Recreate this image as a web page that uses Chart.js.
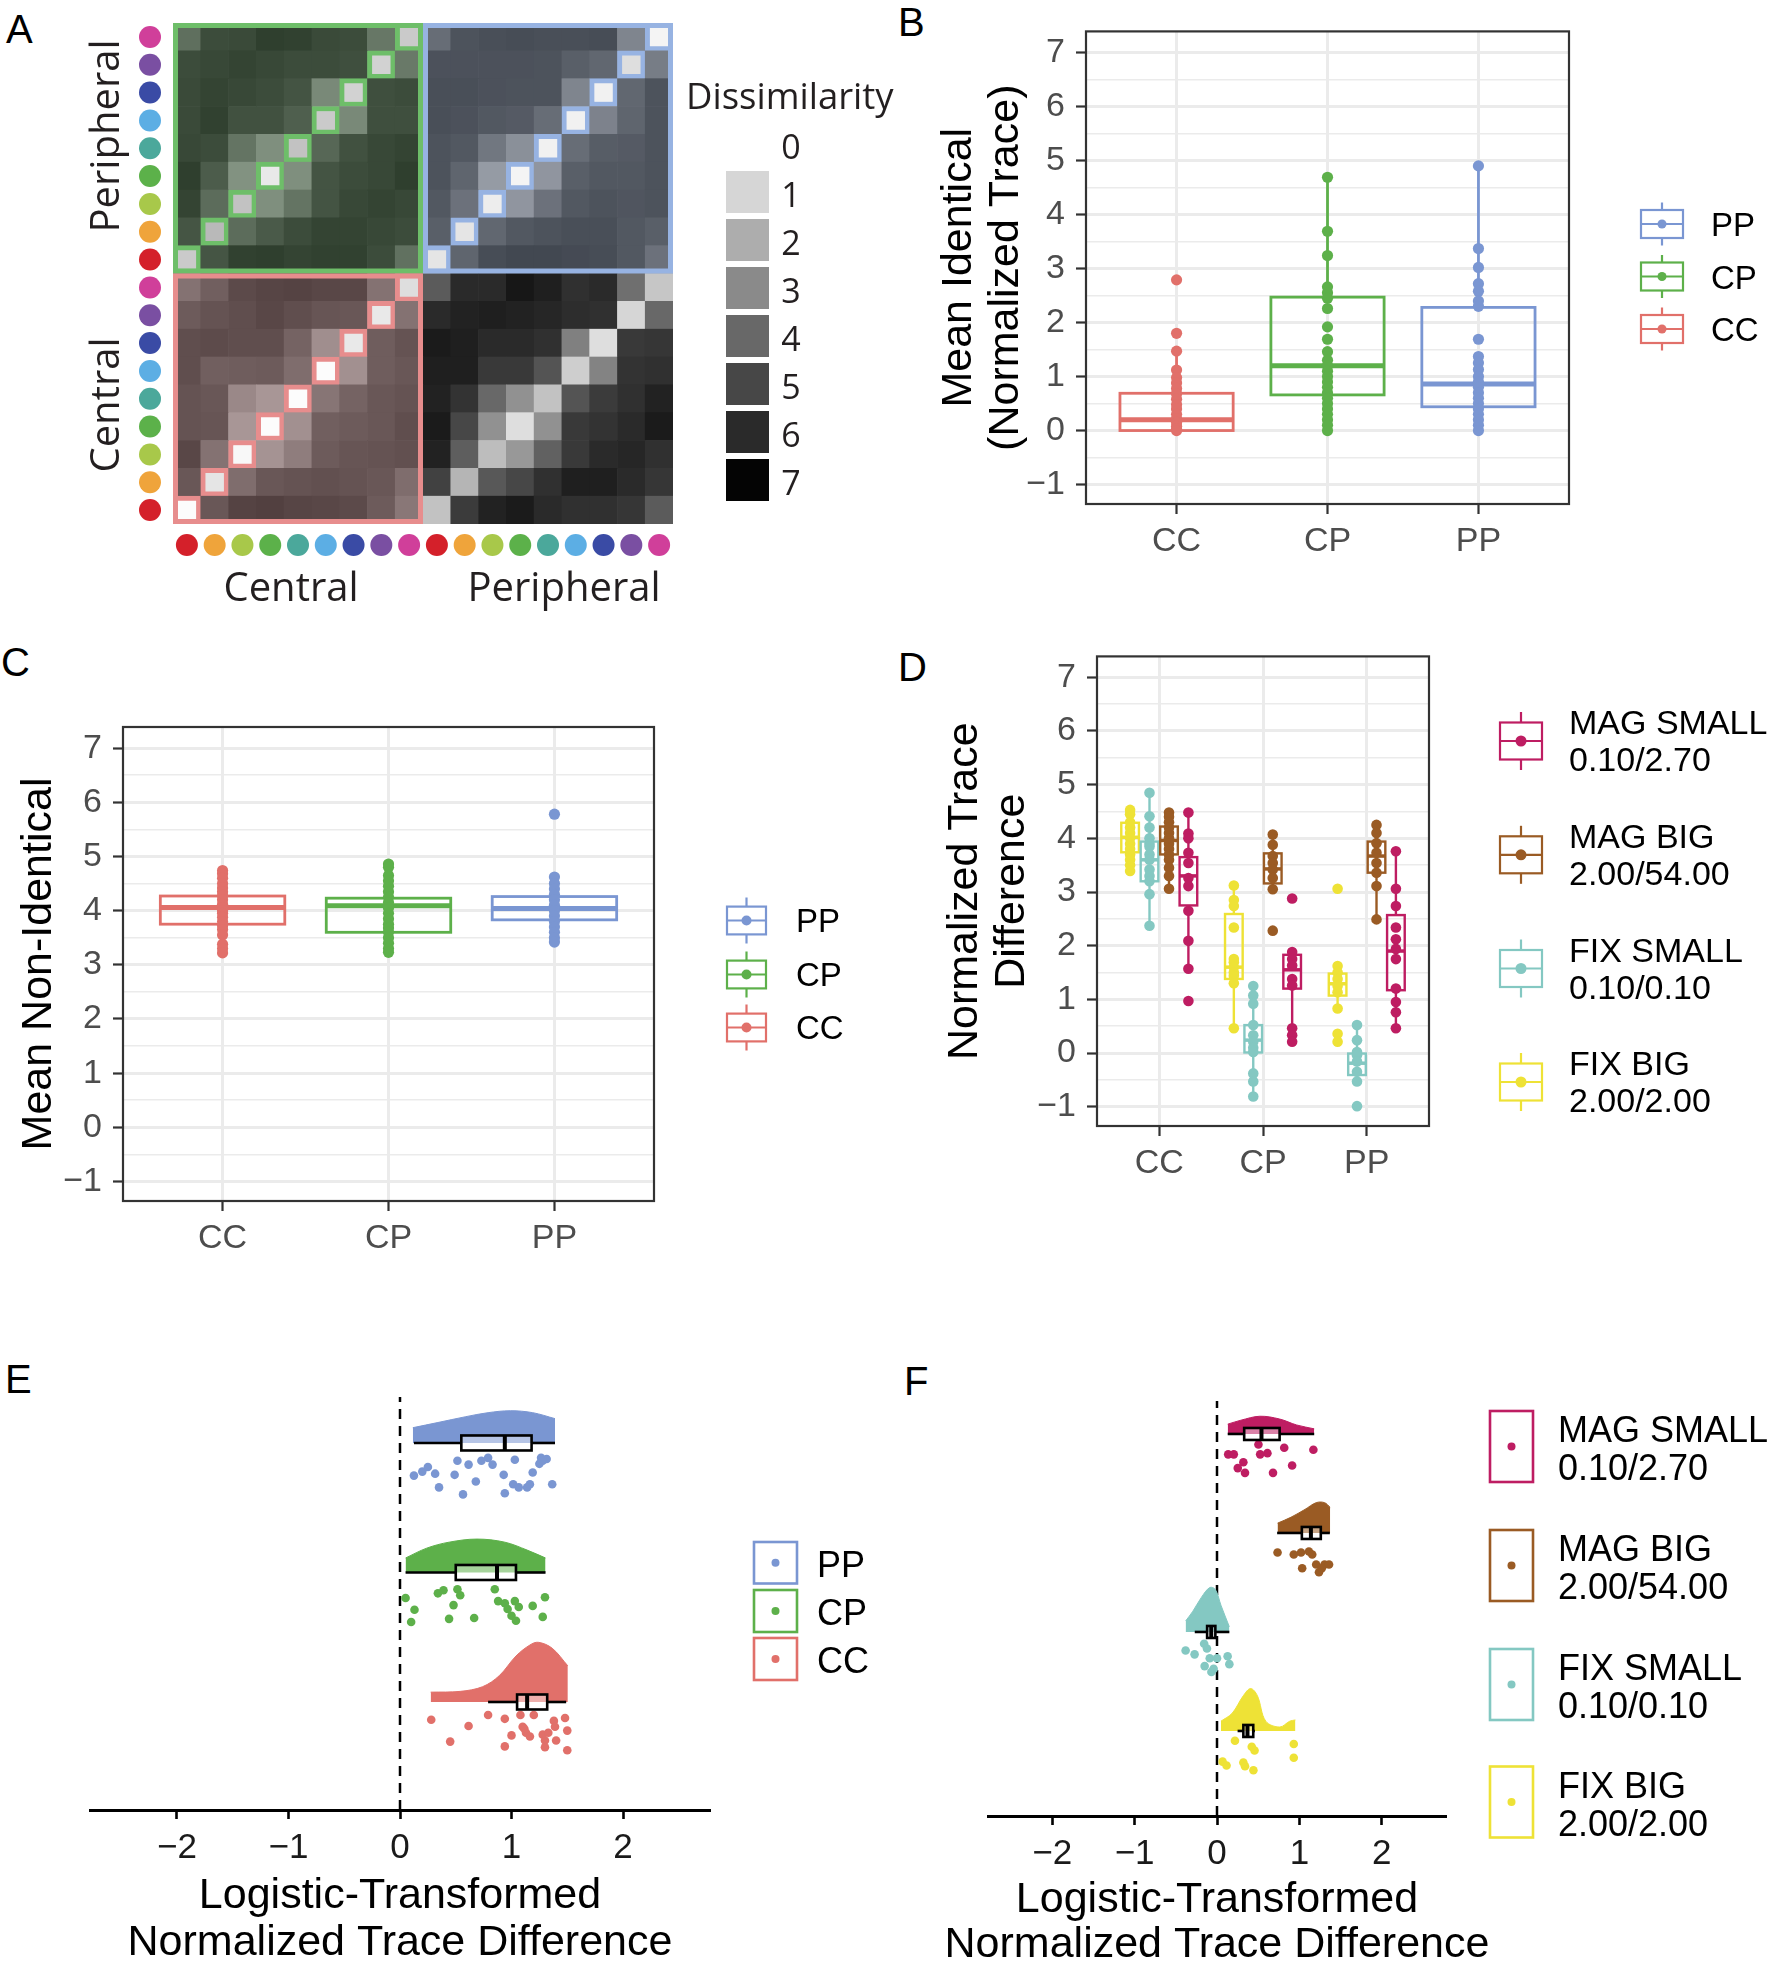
<!DOCTYPE html>
<html>
<head>
<meta charset="utf-8">
<title>Dissimilarity and trace difference panels</title>
<script src="https://cdn.jsdelivr.net/npm/chart.js@4.4.1/dist/chart.umd.min.js"></script>
<style>
  html, body { margin: 0; padding: 0; background: #fff; }
  body { position: relative; width: 1775px; height: 1966px; overflow: hidden; }
  canvas { position: absolute; }
  .tag { position: absolute; font-family: 'Liberation Sans', Arial, sans-serif; font-size: 40px; line-height: 40px; color: #000; }
</style>
</head>
<body>
<div class="tag" style="left:6px;top:9px">A</div>
<div class="tag" style="left:898px;top:2px">B</div>
<div class="tag" style="left:1px;top:642px">C</div>
<div class="tag" style="left:898px;top:647px">D</div>
<div class="tag" style="left:5px;top:1359px">E</div>
<div class="tag" style="left:904px;top:1361px">F</div>
<script>
// ---- panel A: dissimilarity matrix (rows top -> bottom, cols left -> right) ----
var stimulusColors = ['#D4202A', '#EFA43B', '#A8C84A', '#5CB14A', '#4BA89B', '#5CAEE4', '#3A4BA5', '#7A4FA2', '#D03F9A'];
var heatColumns = ['C1', 'C2', 'C3', 'C4', 'C5', 'C6', 'C7', 'C8', 'C9', 'P1', 'P2', 'P3', 'P4', 'P5', 'P6', 'P7', 'P8', 'P9'];
var dissimilarity = [
  [4.4, 5.8, 5.9, 6.3, 6.2, 5.9, 5.8, 4.1, 1.3, 4.4, 5.4, 5.6, 5.7, 5.6, 5.6, 5.7, 3.5, 0.2],
  [5.8, 6.0, 6.1, 6.0, 5.8, 5.8, 5.7, 1.1, 4.0, 5.5, 5.5, 5.5, 5.5, 5.4, 4.9, 4.6, 0.8, 3.8],
  [5.9, 6.1, 6.0, 5.8, 5.5, 3.4, 1.1, 5.7, 5.8, 5.6, 5.6, 5.5, 5.4, 5.4, 3.5, 0.3, 4.6, 5.4],
  [5.9, 6.2, 5.6, 5.6, 5.0, 1.3, 3.4, 5.7, 5.7, 5.6, 5.5, 5.2, 5.1, 4.4, 0.3, 3.6, 4.7, 5.4],
  [6.0, 5.8, 4.2, 3.2, 1.5, 4.7, 5.6, 6.0, 6.1, 5.4, 5.2, 4.0, 3.1, 0.3, 4.4, 5.0, 5.1, 5.4],
  [6.3, 5.1, 3.1, 0.5, 3.2, 5.5, 5.8, 6.0, 6.3, 5.4, 4.7, 2.7, 0.2, 2.9, 4.9, 5.2, 5.2, 5.4],
  [6.1, 4.5, 1.5, 3.2, 4.2, 5.5, 6.0, 6.1, 6.0, 5.2, 4.2, 0.4, 2.9, 4.2, 5.2, 5.4, 5.3, 5.4],
  [5.4, 1.7, 4.5, 5.2, 5.8, 6.1, 6.1, 6.0, 5.8, 4.9, 0.6, 4.6, 5.2, 5.4, 5.6, 5.6, 5.2, 4.9],
  [1.3, 5.4, 6.2, 6.3, 6.1, 6.2, 6.2, 5.8, 4.3, 0.6, 4.7, 5.7, 5.9, 5.9, 5.8, 5.7, 5.2, 4.2],
  [3.9, 4.6, 5.5, 5.7, 5.8, 5.6, 5.6, 3.9, 0.8, 4.4, 6.0, 6.0, 6.5, 6.3, 5.8, 6.0, 3.8, 1.4],
  [4.8, 5.1, 5.3, 5.6, 5.3, 5.0, 4.9, 0.5, 3.9, 6.0, 6.2, 6.3, 6.2, 6.1, 5.9, 5.8, 1.0, 4.0],
  [5.3, 5.4, 5.3, 5.3, 4.5, 2.9, 0.5, 4.7, 5.1, 6.4, 6.3, 6.0, 6.0, 5.8, 3.3, 0.8, 5.5, 5.6],
  [5.3, 4.6, 4.7, 4.8, 4.1, 0.0, 2.8, 4.7, 4.9, 6.3, 6.3, 5.5, 5.5, 4.6, 1.2, 3.2, 5.7, 5.8],
  [5.1, 4.9, 3.1, 2.6, 0.0, 3.8, 4.5, 4.9, 5.1, 6.2, 5.7, 4.0, 2.8, 1.5, 4.6, 5.4, 5.8, 6.2],
  [5.1, 5.0, 2.6, 0.0, 2.8, 4.6, 4.8, 4.9, 5.3, 6.4, 5.0, 2.8, 0.8, 2.8, 5.5, 5.7, 6.0, 6.4],
  [5.6, 3.9, 0.1, 2.7, 3.5, 4.8, 5.0, 5.1, 5.2, 6.2, 4.3, 1.6, 2.6, 4.2, 5.5, 6.0, 6.1, 5.8],
  [4.9, 0.6, 4.1, 4.9, 5.1, 5.2, 5.1, 4.9, 4.1, 5.2, 1.8, 4.5, 5.0, 5.8, 6.3, 6.3, 6.0, 5.6],
  [0.0, 4.9, 5.8, 5.9, 5.7, 5.6, 5.5, 4.8, 3.7, 1.5, 5.4, 6.2, 6.4, 6.0, 5.8, 5.8, 5.6, 4.4]
];
var dissimLevels = [0, 1, 2, 3, 4, 5, 6, 7];
var levelGrays = [252, 214, 173, 138, 104, 71, 42, 4];

// ---- panels B and C ----
var pairTypes = ['CC', 'CP', 'PP'];
var identicalCC = [2.79, 1.80, 1.47, 1.12, 0.98, 0.88, 0.78, 0.68, 0.58, 0.48, 0.40, 0.30, 0.22, 0.15, 0.08, 0.03, 0.0];
var identicalCP = [4.69, 3.69, 3.24, 2.66, 2.55, 2.45, 2.26, 1.92, 1.69, 1.46, 1.30, 1.20, 1.10, 1.0, 0.9, 0.8, 0.7, 0.6, 0.5, 0.4, 0.3, 0.2, 0.1, 0.0];
var identicalPP = [4.90, 3.37, 3.02, 2.72, 2.58, 2.40, 2.30, 1.69, 1.37, 1.25, 1.13, 1.0, 0.9, 0.8, 0.7, 0.6, 0.5, 0.4, 0.3, 0.2, 0.1, 0.0];
// [lower whisker, q1, median, q3, upper whisker]
var identicalBoxes = [[0.0, 0.0, 0.2, 0.69, 1.47], [0.0, 0.66, 1.2, 2.47, 4.69], [0.0, 0.44, 0.86, 2.28, 4.9]];
var nonIdenticalCC = [4.74, 4.68, 4.6, 4.5, 4.42, 4.35, 4.28, 4.2, 4.12, 4.05, 4.0, 3.95, 3.88, 3.8, 3.72, 3.65, 3.55, 3.38, 3.3, 3.22];
var nonIdenticalCP = [4.86, 4.8, 4.65, 4.55, 4.45, 4.35, 4.25, 4.15, 4.05, 3.95, 3.85, 3.75, 3.68, 3.6, 3.5, 3.4, 3.3, 3.23];
var nonIdenticalPP = [5.78, 4.62, 4.5, 4.4, 4.3, 4.2, 4.1, 4.0, 3.9, 3.8, 3.7, 3.6, 3.5, 3.42];
var nonIdenticalBoxes = [[3.22, 3.75, 4.06, 4.27, 4.74], [3.23, 3.6, 4.09, 4.23, 4.86], [3.42, 3.83, 4.04, 4.26, 4.62]];
var pairColors = ['#E1706A', '#5DB04A', '#7A96D2'];

// ---- panel D: one list per pair type (CC, CP, PP) ----
var conditionNames = ['FIX BIG', 'FIX SMALL', 'MAG BIG', 'MAG SMALL'];
var conditionRatios = ['2.00/2.00', '0.10/0.10', '2.00/54.00', '0.10/2.70'];
var conditionColors = ['#EEE236', '#84C8C2', '#9A5B24', '#BE1D62'];
var fixBigDiff = [[4.53, 4.45, 4.3, 4.2, 4.1, 4.0, 3.9, 3.8, 3.7, 3.6, 3.5, 3.39], [3.12, 2.85, 2.74, 2.34, 1.75, 1.69, 1.6, 1.5, 1.44, 1.3, 0.46], [3.06, 1.62, 1.5, 1.38, 1.25, 1.13, 0.83, 0.36, 0.21]];
var fixSmallDiff = [[4.85, 4.41, 4.2, 4.0, 3.9, 3.85, 3.7, 3.6, 3.42, 3.3, 3.2, 2.96, 2.37], [1.25, 1.07, 0.92, 0.52, 0.33, 0.21, 0.1, 0.02, -0.38, -0.53, -0.81], [0.52, 0.24, 0.02, -0.04, -0.16, -0.35, -0.53, -0.99]];
var magBigDiff = [[4.48, 4.4, 4.3, 4.2, 4.1, 4.0, 3.9, 3.8, 3.7, 3.6, 3.45, 3.3, 3.06], [4.07, 3.88, 3.67, 3.54, 3.42, 3.26, 3.05, 2.28], [4.25, 4.1, 3.91, 3.73, 3.54, 3.36, 3.11, 2.49]];
var magSmallDiff = [[4.48, 4.09, 4.0, 3.73, 3.54, 3.26, 3.11, 2.65, 2.09, 1.57, 0.97], [2.88, 1.88, 1.75, 1.63, 1.38, 1.26, 0.46, 0.33, 0.21], [3.76, 3.06, 2.74, 2.34, 2.12, 1.94, 1.75, 1.2, 0.95, 0.76, 0.46]];
var fixBigBoxes = [[3.39, 3.74, 4.02, 4.29, 4.53], [0.46, 1.38, 1.6, 2.59, 3.12], [0.83, 1.07, 1.29, 1.48, 1.62]];
var fixSmallBoxes = [[2.37, 3.2, 3.6, 3.94, 4.85], [-0.81, 0.01, 0.24, 0.52, 1.25], [-0.53, -0.41, -0.19, -0.01, 0.52]];
var magBigBoxes = [[3.06, 3.7, 3.96, 4.22, 4.48], [3.05, 3.16, 3.43, 3.72, 4.07], [2.49, 3.36, 3.67, 3.94, 4.25]];
var magSmallBoxes = [[1.57, 2.75, 3.3, 3.65, 4.48], [0.21, 1.2, 1.55, 1.83, 1.88], [0.46, 1.17, 1.9, 2.57, 3.76]];
var dodge = [-0.281, -0.094, 0.094, 0.281];

// ---- panel E: half-violin outline [x, height], points [x, drop below baseline] ----
var ppDensityE = [[0.115, 0.118], [0.34, 0.158], [0.59, 0.203], [0.79, 0.234], [0.99, 0.249], [1.19, 0.234], [1.39, 0.188]];
var cpDensityE = [[0.05, 0.112], [0.24, 0.188], [0.44, 0.234], [0.69, 0.258], [0.94, 0.234], [1.14, 0.173], [1.305, 0.112]];
var ccDensityE = [[0.275, 0.076], [0.54, 0.082], [0.74, 0.118], [0.89, 0.203], [1.04, 0.355], [1.165, 0.44], [1.24, 0.461], [1.365, 0.415], [1.505, 0.279]];
var ppPointsE = [[0.125, 0.252], [0.2, 0.221], [0.25, 0.185], [0.315, 0.237], [0.35, 0.343], [0.49, 0.246], [0.515, 0.137], [0.565, 0.397], [0.615, 0.167], [0.68, 0.297], [0.73, 0.137], [0.79, 0.115], [0.83, 0.167], [0.93, 0.246], [0.94, 0.388], [1.015, 0.319], [1.03, 0.13], [1.065, 0.343], [1.14, 0.343], [1.165, 0.319], [1.19, 0.228], [1.25, 0.161], [1.265, 0.115], [1.315, 0.124], [1.365, 0.319], [1.28, 0.137]];
var cpPointsE = [[0.05, 0.197], [0.13, 0.288], [0.1, 0.382], [0.34, 0.161], [0.39, 0.137], [0.48, 0.252], [0.44, 0.358], [0.515, 0.13], [0.54, 0.176], [0.665, 0.352], [0.85, 0.13], [0.88, 0.221], [0.94, 0.237], [0.965, 0.282], [1.0, 0.334], [1.03, 0.221], [1.04, 0.373], [1.065, 0.267], [1.19, 0.258], [1.28, 0.343], [1.3, 0.191]];
var ccPointsE = [[0.28, 0.137], [0.615, 0.185], [0.45, 0.306], [0.79, 0.1], [0.94, 0.13], [0.94, 0.343], [1.0, 0.258], [1.08, 0.1], [1.1, 0.191], [1.13, 0.237], [1.165, 0.267], [1.2, 0.1], [1.28, 0.252], [1.3, 0.297], [1.3, 0.349], [1.33, 0.237], [1.38, 0.146], [1.4, 0.297], [1.48, 0.124], [1.5, 0.221], [1.5, 0.373], [1.39, 0.191], [1.115, 0.206]];
var boxesE = [[0.125, 0.55, 0.94, 1.18, 1.39], [0.05, 0.5, 0.87, 1.04, 1.305], [0.79, 1.05, 1.14, 1.32, 1.49]];

// ---- panel F ----
var magSmallDensityF = [[0.13, 0.099], [0.29, 0.139], [0.52, 0.179], [0.76, 0.151], [0.966, 0.091], [1.18, 0.052]];
var magBigDensityF = [[0.735, 0.099], [0.898, 0.159], [1.068, 0.238], [1.204, 0.306], [1.306, 0.306], [1.374, 0.258]];
var fixSmallDensityF = [[-0.381, 0.111], [-0.293, 0.21], [-0.19, 0.349], [-0.088, 0.449], [-0.02, 0.429], [0.048, 0.27], [0.15, 0.052]];
var fixBigDensityF = [[0.048, 0.099], [0.184, 0.179], [0.32, 0.357], [0.408, 0.429], [0.49, 0.357], [0.592, 0.099], [0.762, 0.04], [0.884, 0.099], [0.952, 0.111]];
var magSmallPointsF = [[0.136, 0.206], [0.204, 0.206], [0.32, 0.286], [0.252, 0.345], [0.34, 0.393], [0.503, 0.107], [0.524, 0.206], [0.612, 0.194], [0.68, 0.393], [0.816, 0.139], [0.912, 0.318], [1.17, 0.159]];
var magBigPointsF = [[0.735, 0.198], [0.932, 0.218], [1.02, 0.198], [1.116, 0.187], [1.156, 0.218], [1.034, 0.357], [1.204, 0.318], [1.238, 0.397], [1.306, 0.318], [1.36, 0.318], [1.272, 0.357]];
var fixSmallPointsF = [[-0.381, 0.187], [-0.272, 0.226], [-0.156, 0.119], [-0.122, 0.167], [-0.088, 0.266], [-0.15, 0.345], [-0.041, 0.373], [0.0, 0.266], [0.129, 0.246], [0.15, 0.325], [-0.068, 0.405]];
var fixBigPointsF = [[0.068, 0.31], [0.116, 0.349], [0.218, 0.099], [0.32, 0.318], [0.34, 0.357], [0.422, 0.159], [0.456, 0.198], [0.442, 0.397], [0.932, 0.131], [0.932, 0.27]];
var boxesF = [[0.13, 0.33, 0.54, 0.76, 1.18], [0.73, 1.03, 1.14, 1.26, 1.37], [-0.27, -0.12, -0.07, -0.02, 0.15], [0.25, 0.32, 0.37, 0.44, 0.46]];

Chart.defaults.font.family = "'Liberation Sans', Arial, Helvetica, sans-serif";
Chart.defaults.animation = false;
Chart.defaults.plugins.legend.display = false;
Chart.defaults.plugins.tooltip.enabled = false;

function addCanvas(left, top, w, h) {
  var c = document.createElement('canvas');
  c.width = w; c.height = h;
  c.style.left = left + 'px'; c.style.top = top + 'px';
  c.style.width = w + 'px'; c.style.height = h + 'px';
  document.body.appendChild(c);
  return c;
}
function minus(v) { return v < 0 ? '\u2212' + Math.abs(v) : String(v); }
function hexRgb(h) { return [parseInt(h.substr(1, 2), 16), parseInt(h.substr(3, 2), 16), parseInt(h.substr(5, 2), 16)]; }
function seg(ctx, x0, y0, x1, y1) { ctx.beginPath(); ctx.moveTo(x0, y0); ctx.lineTo(x1, y1); ctx.stroke(); }
function disc(ctx, x, y, r, color) { ctx.fillStyle = color; ctx.beginPath(); ctx.arc(x, y, r, 0, Math.PI * 2); ctx.fill(); }

// ================= A =================
var quadFrames = { UL: '#6EBE69', UR: '#97B3E2', LL: '#E78D8D' };
function quadrant(r, c) { if (r < 9) return c < 9 ? 'UL' : 'UR'; return c < 9 ? 'LL' : null; }
function onDiagonal(r, c) { return (c % 9) === (r < 9 ? 8 - r : 17 - r); }
function grayFor(v) {
  var i = Math.min(6, Math.floor(v)), f = v - i;
  return Math.round(levelGrays[i] + (levelGrays[i + 1] - levelGrays[i]) * f);
}
function cellColor(r, c) {
  var g = grayFor(dissimilarity[r][c]);
  var q = quadrant(r, c);
  if (!q || onDiagonal(r, c)) return 'rgb(' + g + ',' + g + ',' + g + ')';
  var t = hexRgb(quadFrames[q]), a = 0.2;
  return 'rgb(' + Math.round(g * (1 - a) + t[0] * a) + ',' + Math.round(g * (1 - a) + t[1] * a) + ',' + Math.round(g * (1 - a) + t[2] * a) + ')';
}

var heatDatasets = [];
for (var k = 0; k < 18; k++) {
  var r = 17 - k; // stacked from the bottom row up
  var bg = [], bc = [], bw = [], ones = [];
  for (var c = 0; c < 18; c++) {
    var q = quadrant(r, c);
    bg.push(cellColor(r, c));
    bc.push(q ? quadFrames[q] : 'rgba(0,0,0,0)');
    bw.push(q && onDiagonal(r, c) ? 5 : 0);
    ones.push(1);
  }
  heatDatasets.push({ data: ones, backgroundColor: bg, borderColor: bc, borderWidth: bw, borderSkipped: false, categoryPercentage: 1, barPercentage: 1 });
}

var heatDecor = {
  id: 'heatDecor',
  afterDatasetsDraw: function (chart) {
    var ctx = chart.ctx, xs = chart.scales.x, ys = chart.scales.y, area = chart.chartArea;
    var half = (xs.getPixelForValue(1) - xs.getPixelForValue(0)) / 2;
    var quads = [['UL', 0, 8, 9, 18], ['UR', 9, 17, 9, 18], ['LL', 0, 8, 0, 9]];
    ctx.save();
    ctx.lineWidth = 5;
    quads.forEach(function (qd) {
      var x0 = xs.getPixelForValue(qd[1]) - half, x1 = xs.getPixelForValue(qd[2]) + half;
      var y0 = ys.getPixelForValue(qd[4]), y1 = ys.getPixelForValue(qd[3]);
      ctx.strokeStyle = quadFrames[qd[0]];
      ctx.strokeRect(x0 + 2.5, y0 + 2.5, x1 - x0 - 5, y1 - y0 - 5);
    });
    for (var i = 0; i < 18; i++) {
      disc(ctx, xs.getPixelForValue(i), area.bottom + 21, 11, stimulusColors[i % 9]);
      disc(ctx, area.left - 23, ys.getPixelForValue(i + 0.5), 11, stimulusColors[i % 9]);
    }
    ctx.fillStyle = '#231F20';
    ctx.textAlign = 'center';
    ctx.textBaseline = 'middle';
    ctx.font = "40px 'Open Sans'";
    ctx.fillText('Central', 291, 590);
    ctx.fillText('Peripheral', 564, 590);
    [['Peripheral', 136], ['Central', 405]].forEach(function (t) {
      ctx.save(); ctx.translate(108, t[1]); ctx.rotate(-Math.PI / 2); ctx.fillText(t[0], 0, 0); ctx.restore();
    });
    // dissimilarity legend
    ctx.textAlign = 'left';
    ctx.font = "36.5px 'Open Sans'";
    ctx.fillText('Dissimilarity', 686, 99);
    ctx.font = "34px 'Open Sans'";
    ctx.textAlign = 'center';
    dissimLevels.forEach(function (lv) {
      var g = grayFor(lv);
      if (lv > 0) {
        ctx.fillStyle = 'rgb(' + g + ',' + g + ',' + g + ')';
        ctx.fillRect(726, 171 + 48 * (lv - 1), 43, 42);
      }
      ctx.fillStyle = '#231F20';
      ctx.fillText(String(lv), 791, 149 + 48 * lv);
    });
    ctx.restore();
  }
};

new Chart(addCanvas(0, 0, 900, 620), {
  type: 'bar',
  data: { labels: heatColumns, datasets: heatDatasets },
  options: {
    responsive: false, devicePixelRatio: 1, animation: false, events: [],
    layout: { padding: { left: 173, top: 23, right: 227, bottom: 96 } },
    scales: {
      x: { display: false, stacked: true },
      y: { display: false, stacked: true, min: 0, max: 18 }
    }
  },
  plugins: [heatDecor]
});

// ================= box + point panels (B, C, D) =================
function drawVerticalBox(chart, g) {
  var xs = chart.scales.x, ys = chart.scales.y, ctx = chart.ctx, s = g.box;
  var xl = xs.getPixelForValue(g.pos - g.halfWidth), xr = xs.getPixelForValue(g.pos + g.halfWidth), xc = xs.getPixelForValue(g.pos);
  var yLo = ys.getPixelForValue(s[0]), yQ1 = ys.getPixelForValue(s[1]), yMed = ys.getPixelForValue(s[2]);
  var yQ3 = ys.getPixelForValue(s[3]), yHi = ys.getPixelForValue(s[4]);
  ctx.save();
  ctx.strokeStyle = g.color;
  ctx.lineWidth = g.lineWidth;
  seg(ctx, xc, yHi, xc, yQ3);
  seg(ctx, xc, yQ1, xc, yLo);
  ctx.strokeRect(xl, yQ3, xr - xl, yQ1 - yQ3);
  ctx.lineWidth = g.medianWidth;
  seg(ctx, xl, yMed, xr, yMed);
  ctx.restore();
}

function boxLayer(spec) {
  return {
    id: 'boxLayer',
    beforeDatasetsDraw: function (chart) {
      spec.groups.forEach(function (g) { drawVerticalBox(chart, g); });
    },
    afterDatasetsDraw: function (chart) {
      var a = chart.chartArea, ctx = chart.ctx;
      ctx.save();
      ctx.strokeStyle = '#333333';
      ctx.lineWidth = 2.2;
      ctx.strokeRect(a.left, a.top, a.right - a.left, a.bottom - a.top);
      ctx.restore();
    },
    afterDraw: function (chart) {
      var L = spec.legend, ctx = chart.ctx;
      ctx.save();
      L.items.forEach(function (it) {
        ctx.strokeStyle = it.color;
        ctx.lineWidth = 2.2;
        seg(ctx, L.cx, it.cy - L.whisker, L.cx, it.cy + L.whisker);
        ctx.fillStyle = '#fff';
        ctx.fillRect(L.cx - L.bw, it.cy - L.bh, 2 * L.bw, 2 * L.bh);
        ctx.strokeRect(L.cx - L.bw, it.cy - L.bh, 2 * L.bw, 2 * L.bh);
        seg(ctx, L.cx - L.bw, it.cy, L.cx + L.bw, it.cy);
        disc(ctx, L.cx, it.cy, L.dot, it.color);
        ctx.fillStyle = '#000';
        ctx.font = L.fontSize + "px 'Liberation Sans', Arial, sans-serif";
        ctx.textAlign = 'left';
        ctx.textBaseline = 'middle';
        var n = it.lines.length;
        it.lines.forEach(function (txt, j) {
          ctx.fillText(txt, L.tx, it.cy + L.shift + (j - (n - 1) / 2) * L.lineGap);
        });
      });
      ctx.restore();
    }
  };
}

function isMajor(c) { return c.tick && Number.isInteger(c.tick.value); }

function boxPanel(canvas, spec) {
  var datasets = spec.groups.map(function (g) {
    return {
      data: g.values.map(function (v) { return { x: g.pos, y: v }; }),
      backgroundColor: g.color, borderWidth: 0, pointRadius: spec.pointRadius
    };
  });
  return new Chart(canvas, {
    type: 'scatter',
    data: { datasets: datasets },
    options: {
      responsive: false, devicePixelRatio: 1, animation: false, events: [],
      layout: { padding: spec.padding },
      scales: {
        x: {
          type: 'linear', min: 0.4, max: 3.6,
          afterBuildTicks: function (s) { s.ticks = [1, 2, 3].map(function (v) { return { value: v }; }); },
          afterFit: function (s) { s.height = spec.xHeight; },
          ticks: { callback: function (v) { return pairTypes[v - 1]; }, font: { size: 34 }, color: '#4D4D4D', padding: 7, autoSkip: false, maxRotation: 0 },
          grid: { color: '#EBEBEB', lineWidth: 3, tickLength: 10, tickColor: '#333333', tickWidth: 2.2 },
          border: { display: false }
        },
        y: {
          type: 'linear', min: -1.36, max: 7.39,
          afterBuildTicks: function (s) {
            var t = [];
            for (var v = -1; v <= 7; v += 0.5) t.push({ value: v });
            s.ticks = t;
          },
          afterFit: function (s) { s.width = spec.yWidth; },
          ticks: { callback: function (v) { return Number.isInteger(v) ? minus(v) : ''; }, font: { size: 34 }, color: '#4D4D4D', padding: 11, autoSkip: false },
          grid: {
            color: '#EBEBEB',
            lineWidth: function (c) { return isMajor(c) ? 3 : 1.5; },
            tickColor: function (c) { return isMajor(c) ? '#333333' : 'rgba(0,0,0,0)'; },
            tickLength: 10, tickWidth: 2.2
          },
          border: { display: false },
          title: { display: true, text: spec.title, color: '#000', font: { size: 43, lineHeight: 1.1 }, padding: { top: spec.titlePad, bottom: 0 } }
        }
      }
    },
    plugins: [boxLayer(spec)]
  });
}

function pairGroups(lists, boxes) {
  return lists.map(function (vals, i) {
    return { pos: i + 1, halfWidth: 0.375, values: vals, box: boxes[i], color: pairColors[i], lineWidth: 2.8, medianWidth: 5 };
  });
}

// B
boxPanel(addCanvas(890, 0, 885, 570), {
  padding: { left: 0, top: 30, right: 206, bottom: 0 }, yWidth: 196, xHeight: 66,
  title: ['Mean Identical', '(Normalized Trace)'], titlePad: 45, pointRadius: 5.6,
  groups: pairGroups([identicalCC, identicalCP, identicalPP], identicalBoxes),
  legend: {
    cx: 772, bw: 21, bh: 14, whisker: 21.5, dot: 4.5, tx: 821, fontSize: 33, lineGap: 0, shift: 3,
    items: [{ cy: 224, color: pairColors[2], lines: ['PP'] }, { cy: 276.5, color: pairColors[1], lines: ['CP'] }, { cy: 329, color: pairColors[0], lines: ['CC'] }]
  }
});

// C
boxPanel(addCanvas(0, 625, 880, 640), {
  padding: { left: 0, top: 102, right: 226, bottom: 0 }, yWidth: 123, xHeight: 64,
  title: 'Mean Non-Identical', titlePad: 15, pointRadius: 5.6,
  groups: pairGroups([nonIdenticalCC, nonIdenticalCP, nonIdenticalPP], nonIdenticalBoxes),
  legend: {
    cx: 746.5, bw: 19.5, bh: 13.9, whisker: 23, dot: 5, tx: 796, fontSize: 33, lineGap: 0, shift: 2,
    items: [{ cy: 295.5, color: pairColors[2], lines: ['PP'] }, { cy: 349.5, color: pairColors[1], lines: ['CP'] }, { cy: 402.5, color: pairColors[0], lines: ['CC'] }]
  }
});

// D
var diffLists = [fixBigDiff, fixSmallDiff, magBigDiff, magSmallDiff];
var diffBoxes = [fixBigBoxes, fixSmallBoxes, magBigBoxes, magSmallBoxes];
var dGroups = [];
for (var ci = 0; ci < 4; ci++) {
  for (var p = 0; p < 3; p++) {
    dGroups.push({ pos: p + 1 + dodge[ci], halfWidth: 0.085, values: diffLists[ci][p], box: diffBoxes[ci][p], color: conditionColors[ci], lineWidth: 2.4, medianWidth: 3.5 });
  }
}
var dLegendY = [457, 343.5, 229.8, 116];
boxPanel(addCanvas(890, 625, 885, 570), {
  padding: { left: 0, top: 28, right: 346, bottom: 0 }, yWidth: 207, xHeight: 69,
  title: ['Normalized Trace', 'Difference'], titlePad: 51, pointRadius: 5.3,
  groups: dGroups,
  legend: {
    cx: 631, bw: 21, bh: 18.5, whisker: 29, dot: 5.5, tx: 679, fontSize: 34, lineGap: 37, shift: 2.5,
    items: [3, 2, 1, 0].map(function (ci) { return { cy: dLegendY[ci], color: conditionColors[ci], lines: [conditionNames[ci], conditionRatios[ci]] }; })
  }
});

// ================= raincloud panels (E, F) =================
var xTitleLines = ['Logistic-Transformed', 'Normalized Trace Difference'];

function rainPanel(canvas, spec) {
  var datasets = [{
    type: 'line', data: [{ x: 0, y: spec.yMin }, { x: 0, y: spec.yMax }],
    borderColor: '#000', borderWidth: 2.5, borderDash: [10, 7], pointRadius: 0, fill: false, order: 3
  }];
  spec.groups.forEach(function (g) {
    datasets.push({
      type: 'line', data: g.density.map(function (d) { return { x: d[0], y: g.base + d[1] }; }),
      borderColor: g.color, borderWidth: 1, backgroundColor: g.color, fill: { value: g.base },
      pointRadius: 0, tension: 0.35, order: 2
    });
    datasets.push({
      type: 'scatter', data: g.points.map(function (d) { return { x: d[0], y: g.base - d[1] }; }),
      backgroundColor: g.color, borderWidth: 0, pointRadius: 4.3, order: 1
    });
  });
  var layer = {
    id: 'rainLayer',
    afterDatasetsDraw: function (chart) {
      var xs = chart.scales.x, ys = chart.scales.y, ctx = chart.ctx, hh = spec.boxHalf;
      ctx.save();
      ctx.strokeStyle = '#000';
      spec.groups.forEach(function (g) {
        var s = g.box, y = ys.getPixelForValue(g.base);
        var xLo = xs.getPixelForValue(s[0]), xQ1 = xs.getPixelForValue(s[1]), xMed = xs.getPixelForValue(s[2]);
        var xQ3 = xs.getPixelForValue(s[3]), xHi = xs.getPixelForValue(s[4]);
        ctx.lineWidth = 2.6;
        seg(ctx, xLo, y, xQ1, y);
        seg(ctx, xQ3, y, xHi, y);
        ctx.fillStyle = 'rgba(255,255,255,0.45)';
        ctx.fillRect(xQ1, y - hh, xQ3 - xQ1, 2 * hh);
        ctx.strokeRect(xQ1, y - hh, xQ3 - xQ1, 2 * hh);
        ctx.lineWidth = 4;
        seg(ctx, xMed, y - hh, xMed, y + hh);
      });
      ctx.restore();
    },
    afterDraw: function (chart) {
      var L = spec.legend, ctx = chart.ctx, a = chart.chartArea;
      ctx.save();
      // axis title, two centred lines under the axis
      ctx.fillStyle = '#000';
      ctx.font = "43px 'Liberation Sans', Arial, sans-serif";
      ctx.textAlign = 'center';
      ctx.textBaseline = 'middle';
      xTitleLines.forEach(function (txt, j) { ctx.fillText(txt, (a.left + a.right) / 2, spec.titleY[j]); });
      L.items.forEach(function (it) {
        ctx.strokeStyle = it.color;
        ctx.lineWidth = 2.6;
        ctx.strokeRect(L.x, it.y, L.w, it.h);
        disc(ctx, L.x + L.w / 2, it.y + it.h / 2, 4, it.color);
        ctx.fillStyle = '#000';
        ctx.font = L.fontSize + "px 'Liberation Sans', Arial, sans-serif";
        ctx.textAlign = 'left';
        var n = it.lines.length, cy = it.y + it.h / 2 + L.shift;
        it.lines.forEach(function (txt, j) {
          ctx.fillText(txt, L.tx, cy + (j - (n - 1) / 2) * L.lineGap);
        });
      });
      ctx.restore();
    }
  };
  return new Chart(canvas, {
    type: 'scatter',
    data: { datasets: datasets },
    options: {
      responsive: false, devicePixelRatio: 1, animation: false, events: [],
      layout: { padding: spec.padding },
      scales: {
        x: {
          type: 'linear', min: -2.78, max: 2.78,
          afterBuildTicks: function (s) { s.ticks = [-2, -1, 0, 1, 2].map(function (v) { return { value: v }; }); },
          afterFit: function (s) { s.height = spec.xHeight; },
          ticks: { callback: function (v) { return minus(v); }, font: { size: 35 }, color: '#1A1A1A', padding: 8, autoSkip: false, maxRotation: 0 },
          grid: { drawOnChartArea: false, color: '#000', tickLength: 9, tickColor: '#000', tickWidth: 2.6 },
          border: { display: true, color: '#000', width: 3 }
        },
        y: { type: 'linear', display: false, min: spec.yMin, max: spec.yMax }
      }
    },
    plugins: [layer]
  });
}

// E
rainPanel(addCanvas(0, 1350, 880, 616), {
  padding: { left: 90, top: 47, right: 170, bottom: 0 }, xHeight: 156, titleY: [546, 593],
  yMin: 0.166, yMax: 3.355, boxHalf: 7.5,
  groups: [
    { base: 3, color: pairColors[2], density: ppDensityE, points: ppPointsE, box: boxesE[0] },
    { base: 2, color: pairColors[1], density: cpDensityE, points: cpPointsE, box: boxesE[1] },
    { base: 1, color: pairColors[0], density: ccDensityE, points: ccPointsE, box: boxesE[2] }
  ],
  legend: {
    x: 754, w: 43, tx: 817, fontSize: 36, lineGap: 0, shift: 4,
    items: [{ y: 192, h: 41.5, color: pairColors[2], lines: ['PP'] }, { y: 240, h: 42, color: pairColors[1], lines: ['CP'] }, { y: 288, h: 42, color: pairColors[0], lines: ['CC'] }]
  }
});

// F
rainPanel(addCanvas(890, 1350, 885, 616), {
  padding: { left: 98, top: 51, right: 329, bottom: 0 }, xHeight: 150, titleY: [550, 595],
  yMin: 0.141, yMax: 4.333, boxHalf: 6,
  groups: [
    { base: 4, color: conditionColors[3], density: magSmallDensityF, points: magSmallPointsF, box: boxesF[0] },
    { base: 3, color: conditionColors[2], density: magBigDensityF, points: magBigPointsF, box: boxesF[1] },
    { base: 2, color: conditionColors[1], density: fixSmallDensityF, points: fixSmallPointsF, box: boxesF[2] },
    { base: 1, color: conditionColors[0], density: fixBigDensityF, points: fixBigPointsF, box: boxesF[3] }
  ],
  legend: {
    x: 600, w: 43, tx: 668, fontSize: 36, lineGap: 38, shift: 5,
    items: [3, 2, 1, 0].map(function (ci, j) {
      var tops = [61, 180, 299, 416.5];
      return { y: tops[j], h: 71, color: conditionColors[ci], lines: [conditionNames[ci], conditionRatios[ci]] };
    })
  }
});
</script>
</body>
</html>
